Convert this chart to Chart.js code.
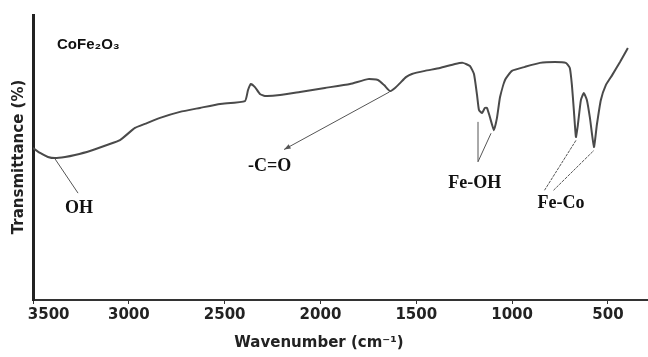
<!DOCTYPE html>
<html>
<head>
<meta charset="utf-8">
<script src="https://cdn.jsdelivr.net/npm/chart.js@4"></script>
<style>
  html, body { margin: 0; padding: 0; background: #fff; }
  #wrap { width: 648px; height: 357px; }
</style>
</head>
<body>
<div id="wrap"><canvas id="chart"></canvas></div>
<script>
// FTIR spectrum of CoFe2O3
const wavenumbers = [
  3500, 3463, 3422, 3385, 3333, 3281, 3203, 3114, 3046, 2968, 2916, 2837,
  2733, 2629, 2524, 2394, 2378, 2363, 2342, 2316, 2290, 2211, 2107, 1977,
  1846, 1752, 1700, 1668, 1637, 1611, 1585, 1554, 1523, 1455, 1377, 1298,
  1257, 1220, 1199, 1183, 1173, 1157, 1142, 1131, 1116, 1095, 1079, 1063,
  1037, 1001, 933, 855, 777, 720, 699, 688, 678, 667, 657, 641,
  626, 610, 594, 573, 558, 537, 511, 478, 437, 396
];
const transmittance = [
  53.3, 51.6, 50.2, 49.8, 50.2, 50.9, 52.3, 54.4, 56.1, 60.4, 61.8, 63.9,
  66.0, 67.4, 68.8, 69.8, 73.7, 75.8, 74.7, 72.3, 71.6, 71.9, 73.0, 74.4,
  75.8, 77.5, 77.2, 75.4, 73.3, 74.4, 76.1, 78.2, 79.3, 80.4, 81.4, 82.8,
  83.2, 82.1, 79.3, 71.9, 66.7, 65.6, 67.4, 67.4, 64.2, 59.6, 63.9, 71.2,
  77.2, 80.4, 81.8, 83.2, 83.5, 83.2, 81.4, 75.4, 66.7, 57.2, 61.4, 70.2,
  72.6, 70.2, 63.9, 53.7, 61.4, 70.2, 75.4, 78.9, 83.5, 88.4
];
const tickValues = [3500, 3000, 2500, 2000, 1500, 1000, 500];
// the first label sits right of its tick in the original, hence the leading spaces
const tickLabels = ['      3500', '3000', '2500', '2000', '1500', '1000', '500'];

// band labels: text, label position, and where the pointer lines go (data units)
const bands = [
  { text: 'OH', at: [3260, 32], lines: [[[3385, 49.5], [3265, 37.5]]] },
  { text: '-C=O', at: [2265, 47], arrow: true, lines: [[[1640, 73], [2190, 52.8]]] },
  { text: 'Fe-OH', at: [1195, 41], lines: [[[1178, 62.5], [1178, 48.5]], [[1178, 48.5], [1110, 58.5]]] },
  { text: 'Fe-Co', at: [745, 34], dashed: true, lines: [[[831, 38.5], [667, 56]], [[784, 38.5], [573, 52.5]]] }
];

const points = wavenumbers.map((w, i) => ({ x: w, y: transmittance[i] }));

const labelsPlugin = {
  id: 'labels',
  afterDatasetsDraw(chart) {
    const { ctx, scales: { x, y } } = chart;
    ctx.save();
    ctx.fillStyle = '#111';
    ctx.textAlign = 'left';
    ctx.textBaseline = 'middle';
    ctx.font = 'bold 15px "Liberation Sans"';
    ctx.fillText('CoFe\u2082O\u2083', 57, 45);

    ctx.strokeStyle = '#555';
    ctx.lineWidth = 1;
    bands.forEach(b => {
      ctx.setLineDash(b.dashed ? [3, 1] : []);
      b.lines.forEach(([p, q]) => {
        const x1 = x.getPixelForValue(p[0]), y1 = y.getPixelForValue(p[1]);
        const x2 = x.getPixelForValue(q[0]), y2 = y.getPixelForValue(q[1]);
        ctx.beginPath();
        ctx.moveTo(x1, y1);
        ctx.lineTo(x2, y2);
        ctx.stroke();
        if (b.arrow) {
          const a = Math.atan2(y2 - y1, x2 - x1);
          ctx.beginPath();
          ctx.moveTo(x2, y2);
          ctx.lineTo(x2 - 7 * Math.cos(a - 0.35), y2 - 7 * Math.sin(a - 0.35));
          ctx.lineTo(x2 - 7 * Math.cos(a + 0.35), y2 - 7 * Math.sin(a + 0.35));
          ctx.closePath();
          ctx.fillStyle = '#555';
          ctx.fill();
        }
      });
      ctx.setLineDash([]);
      ctx.fillStyle = '#111';
      ctx.font = 'bold 18px "Liberation Serif"';
      ctx.textAlign = 'center';
      ctx.fillText(b.text, x.getPixelForValue(b.at[0]), y.getPixelForValue(b.at[1]));
    });

    // axis titles
    ctx.fillStyle = '#222';
    ctx.font = 'bold 15px "DejaVu Sans"';
    ctx.textAlign = 'center';
    ctx.fillText('Wavenumber (cm\u207B\u00B9)', 319, 343);
    ctx.translate(19, 157);
    ctx.rotate(-Math.PI / 2);
    ctx.fillText('Transmittance (%)', 0, 0);
    ctx.restore();
  }
};

new Chart(document.getElementById('chart'), {
  type: 'line',
  data: {
    datasets: [{
      data: points,
      borderColor: '#4a4a4a',
      borderWidth: 2,
      pointRadius: 0,
      tension: 0.15,
      fill: false
    }]
  },
  options: {
    responsive: true,
    maintainAspectRatio: false,
    animation: false,
    layout: { padding: { top: 15, right: 0, left: 0, bottom: 0 } },
    plugins: { legend: { display: false }, tooltip: { enabled: false } },
    scales: {
      x: {
        type: 'linear',
        reverse: true,
        min: 291,
        max: 3500,
        afterBuildTicks: s => { s.ticks = tickValues.map(v => ({ value: v })); },
        afterFit: s => { s.height = 57; s.paddingLeft = 0; s.paddingRight = 0; },
        grid: { drawOnChartArea: false, drawTicks: true, tickLength: 4, color: '#333' },
        border: { display: true, color: '#333', width: 2 },
        ticks: {
          color: '#222',
          padding: 2,
          maxRotation: 0,
          autoSkip: false,
          font: { family: 'DejaVu Sans', size: 15, weight: 'bold' },
          callback: v => tickLabels[tickValues.indexOf(v)]
        }
      },
      y: {
        min: 0,
        max: 100,
        afterFit: s => { s.width = 33; },
        grid: { display: false },
        border: { display: true, color: '#222', width: 3 },
        ticks: { display: false }
      }
    }
  },
  plugins: [labelsPlugin]
});
</script>
</body>
</html>
